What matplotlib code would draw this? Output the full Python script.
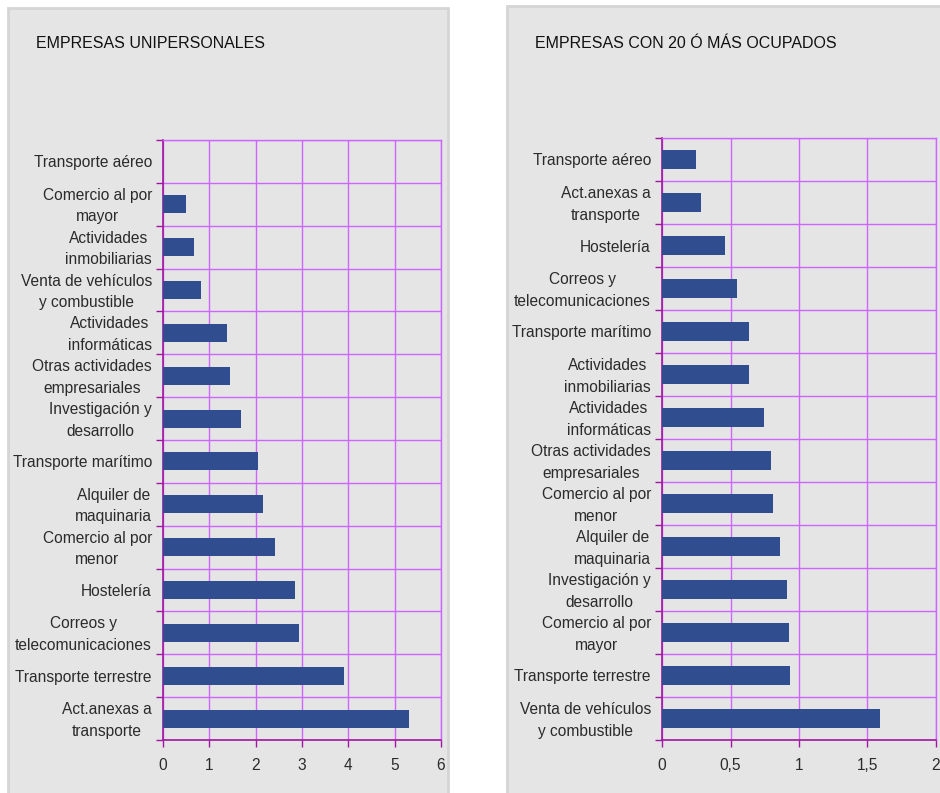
import numpy as np
import matplotlib
matplotlib.use("Agg")
import matplotlib.pyplot as plt
from matplotlib.patches import Rectangle
from matplotlib.ticker import FixedLocator, FuncFormatter
from matplotlib.transforms import ScaledTranslation

plt.rcParams['font.family'] = ['Liberation Sans', 'DejaVu Sans']

# Datos (de arriba hacia abajo, tal como aparecen)
cat_uni = ["Transporte aéreo", "Comercio al por\nmayor", "Actividades\ninmobiliarias",
           "Venta de vehículos\ny combustible", "Actividades\ninformáticas",
           "Otras actividades\nempresariales", "Investigación y\ndesarrollo",
           "Transporte marítimo", "Alquiler de\nmaquinaria", "Comercio al por\nmenor",
           "Hostelería", "Correos y\ntelecomunicaciones", "Transporte terrestre",
           "Act.anexas a\ntransporte"]
val_uni = [0.0, 0.50, 0.67, 0.82, 1.38, 1.45, 1.68, 2.05, 2.16, 2.42, 2.85, 2.94, 3.90, 5.32]

cat_20 = ["Transporte aéreo", "Act.anexas a\ntransporte", "Hostelería",
          "Correos y\ntelecomunicaciones", "Transporte marítimo", "Actividades\ninmobiliarias",
          "Actividades\ninformáticas", "Otras actividades\nempresariales",
          "Comercio al por\nmenor", "Alquiler de\nmaquinaria", "Investigación y\ndesarrollo",
          "Comercio al por\nmayor", "Transporte terrestre", "Venta de vehículos\ny combustible"]
val_20 = [0.248, 0.285, 0.46, 0.55, 0.635, 0.635, 0.745, 0.795, 0.81, 0.86, 0.91, 0.93, 0.934, 1.59]

ticks_uni = [0, 1, 2, 3, 4, 5, 6]
ticks_20 = [0, 0.5, 1, 1.5, 2]

W, H = 940, 793
fig = plt.figure(figsize=(W / 100, H / 100), dpi=100)
fig.patch.set_facecolor('white')

# paneles grises
fig.patches.append(Rectangle((8 / W, -0.01), 440 / W, 1 - 8 / H + 0.01, transform=fig.transFigure,
                             facecolor='#e5e5e5', edgecolor='#d5d5d5', linewidth=2, zorder=-10))
fig.patches.append(Rectangle((507 / W, -0.01), 440 / W, 1 - 6 / H + 0.01, transform=fig.transFigure,
                             facecolor='#e5e5e5', edgecolor='#d5d5d5', linewidth=2, zorder=-10))

grid_c = '#cc66ff'
axis_c = '#a0179f'
bar_c = '#2f4d8f'
txt_c = '#2b2b2b'


def panel(rect, cats, vals, xticks, title, title_xy):
    ax = fig.add_axes(rect)
    ax.set_facecolor('none')
    n = len(cats)
    y = np.arange(n)[::-1]
    ax.barh(y, vals, height=0.42, color=bar_c, zorder=3)
    ax.set_ylim(-0.5, n - 0.5)
    ax.set_xlim(xticks[0], xticks[-1])
    ax.set_yticks(y)
    ax.set_yticklabels(cats)
    ax.yaxis.set_minor_locator(FixedLocator(np.arange(n + 1) - 0.5))
    ax.set_xticks(xticks)
    ax.xaxis.set_major_formatter(FuncFormatter(lambda v, p: f"{v:g}".replace('.', ',')))
    ax.tick_params(axis='y', which='major', length=0, pad=8, labelsize=11.2, labelcolor=txt_c)
    ax.tick_params(axis='y', which='minor', length=5, width=1, color=axis_c, direction='out')
    ax.tick_params(axis='x', which='major', length=5, width=1, color=axis_c, direction='out',
                   pad=8, labelsize=11.2, labelcolor=txt_c)
    # etiquetas de dos líneas: centradas y un poco más arriba
    up = ScaledTranslation(0, 3 / 100, fig.dpi_scale_trans)
    for tick in ax.yaxis.get_major_ticks():
        lab = tick.label1
        lab.set_multialignment('center')
        lab.set_linespacing(1.55)
        if '\n' in lab.get_text():
            lab.set_transform(lab.get_transform() + up)
    ax.grid(True, axis='x', which='major', color=grid_c, linewidth=1, zorder=1)
    ax.grid(True, axis='y', which='minor', color=grid_c, linewidth=1, zorder=1)
    ax.set_axisbelow(True)
    for s in ('top', 'right'):
        ax.spines[s].set_color(grid_c)
        ax.spines[s].set_linewidth(1)
    for s in ('left', 'bottom'):
        ax.spines[s].set_color(axis_c)
        ax.spines[s].set_linewidth(1.2)
    fig.text(title_xy[0] / W, 1 - title_xy[1] / H, title, fontsize=11.5, color='#111111',
             ha='left', va='center')
    return ax


panel([163 / W, 1 - 740 / H, 278 / W, 600 / H], cat_uni, val_uni, ticks_uni,
      "EMPRESAS UNIPERSONALES", (36, 44))
panel([662 / W, 1 - 740 / H, 274 / W, 602 / H], cat_20, val_20, ticks_20,
      "EMPRESAS CON 20 Ó MÁS OCUPADOS", (535, 43))

fig.savefig("out.png", dpi=100)
